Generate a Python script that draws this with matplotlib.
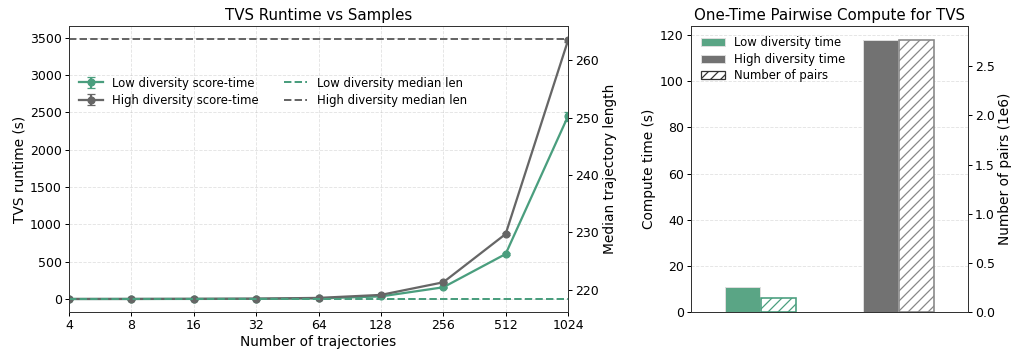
import matplotlib
matplotlib.use("Agg")
import matplotlib.pyplot as plt
import matplotlib.patches as mpatches
import numpy as np

# ---- data ----
n_traj = [4, 8, 16, 32, 64, 128, 256, 512, 1024]
low_time = [0.3, 0.6, 1.2, 3, 8, 35, 157, 603, 2450]
low_err = [0.1, 0.1, 0.2, 0.5, 1, 3, 8, 15, 60]
high_time = [0.5, 1.0, 2.5, 5, 15, 55, 224, 871, 3465]
high_err = [0.1, 0.2, 0.3, 0.5, 1, 3, 6, 10, 20]
low_median_len = 218.4
high_median_len = 263.7

groups = ["Low diversity", "High diversity"]
compute_time = [11.0, 118.0]
num_pairs = [0.139e6, 2.77e6]

GREEN = "#4a9e7e"
GRAY = "#666666"
GREEN_FILL = "#5aa585"
GRAY_FILL = "#727272"
SPINE = "#333333"

plt.rcParams['font.family'] = ['DejaVu Sans']
plt.rcParams['font.size'] = 10
plt.rcParams['xtick.labelsize'] = 10
plt.rcParams['ytick.labelsize'] = 10
plt.rcParams['axes.labelsize'] = 11
plt.rcParams['xtick.major.pad'] = 2.5
plt.rcParams['ytick.major.pad'] = 2.5
plt.rcParams['xtick.major.size'] = 3.2
plt.rcParams['ytick.major.size'] = 3.2

DPI = 90
fig = plt.figure(figsize=(1013 / DPI, 355 / DPI), dpi=DPI)

# ---- left panel ----
ax = fig.add_axes([69 / 1013, 43 / 355, 499 / 1013, 286 / 355])
ax.errorbar(n_traj, low_time, yerr=low_err, color=GREEN, marker='o', ms=5.5,
            lw=1.8, capsize=3, label="Low diversity score-time", zorder=3)
ax.errorbar(n_traj, high_time, yerr=high_err, color=GRAY, marker='o', ms=5.5,
            lw=1.8, capsize=3, label="High diversity score-time", zorder=3)
ax.set_xscale('log', base=2)
ax.set_xticks(n_traj)
ax.set_xticklabels([str(v) for v in n_traj])
ax.minorticks_off()
ax.set_xlim(n_traj[0], n_traj[-1])
ax.set_xlabel("Number of trajectories", labelpad=2)
ax.set_ylabel("TVS runtime (s)", labelpad=3)
ax.set_title("TVS Runtime vs Samples", fontsize=12, pad=5)
ax.grid(True, ls='--', lw=0.7, alpha=0.35)

ax2 = ax.twinx()
ax2.axhline(low_median_len, color=GREEN, ls='--', lw=1.6, label="Low diversity median len")
ax2.axhline(high_median_len, color=GRAY, ls='--', lw=1.6, label="High diversity median len")
span = high_median_len - low_median_len
ax2.set_ylim(low_median_len - 0.05 * span, high_median_len + 0.05 * span)
ax2.set_ylabel("Median trajectory length", labelpad=3)

h1, l1 = ax.get_legend_handles_labels()
h2, l2 = ax2.get_legend_handles_labels()
ax.legend(h1 + h2, l1 + l2, ncol=2, loc='upper left', bbox_to_anchor=(0.0, 0.86),
          frameon=False, fontsize=9.3, handlelength=2.0, columnspacing=2.2,
          labelspacing=0.35)

for a in (ax, ax2):
    for s in a.spines.values():
        s.set_color(SPINE)

# ---- right panel ----
bx = fig.add_axes([691 / 1013, 43 / 355, 277 / 1013, 286 / 355])
x = np.arange(len(groups))
w = 0.25
fills = [GREEN_FILL, GRAY_FILL]
edges = [GREEN, "#888888"]
time_labels = ["Low diversity time", "High diversity time"]
for i in range(len(groups)):
    bx.bar(x[i] - 0.13, compute_time[i], width=w, color=fills[i], edgecolor='#dddddd',
           lw=0.8, label=time_labels[i], zorder=2)
bx.set_xlim(-0.5, 1.5)
bx.set_ylim(0, max(compute_time) * 1.05)
bx.set_xticks([])
bx.set_ylabel("Compute time (s)", labelpad=3)
bx.set_title("One-Time Pairwise Compute for TVS", fontsize=12, pad=5)
bx.grid(True, axis='y', ls='--', lw=0.7, alpha=0.35)
bx.set_axisbelow(True)

bx2 = bx.twinx()
pairs_m = [v / 1e6 for v in num_pairs]
for i in range(len(groups)):
    bx2.bar(x[i] + 0.13, pairs_m[i], width=w, color='white', edgecolor=edges[i],
            hatch='///', lw=1.3)
bx2.set_ylim(0, max(pairs_m) * 1.05)
bx2.set_ylabel("Number of pairs (1e6)", labelpad=2)

hb, lb = bx.get_legend_handles_labels()
hatch_patch = mpatches.Patch(facecolor='white', edgecolor='#333333', hatch='///')
bx.legend(hb + [hatch_patch], lb + ["Number of pairs"], loc='upper left',
          frameon=False, fontsize=9.3, labelspacing=0.3)

for a in (bx, bx2):
    for s in a.spines.values():
        s.set_color(SPINE)

fig.savefig("out.png", dpi=DPI)
